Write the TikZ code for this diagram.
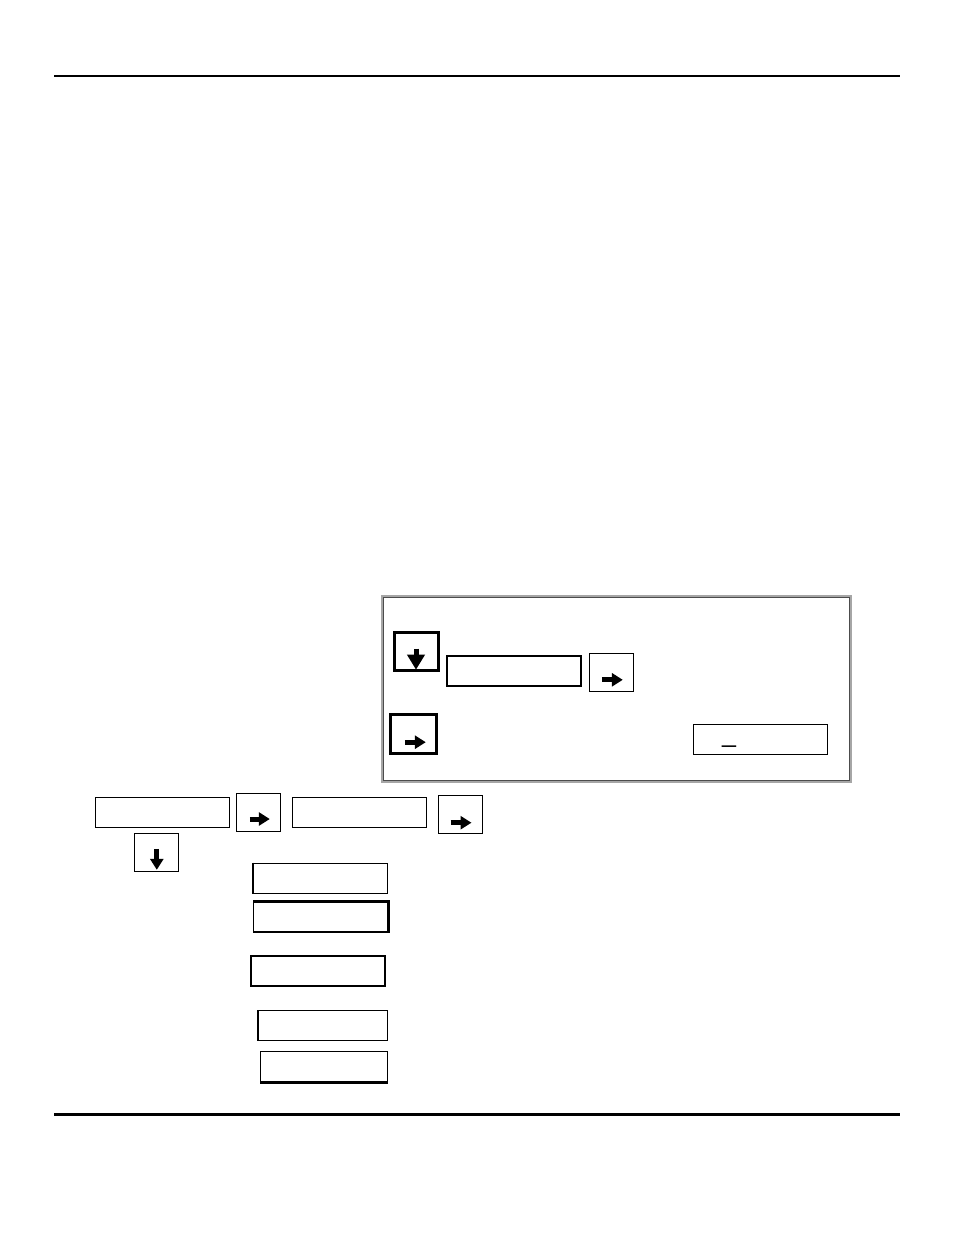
\documentclass[tikz,border=0pt]{standalone}
\usepackage{fontspec}
\usetikzlibrary{arrows.meta}
\newfontfamily\arialfont{Liberation Sans}

\begin{document}
\begin{tikzpicture}[x=1pt,y=-1pt]
	\useasboundingbox (0,0) rectangle (954,1235);
	% page rules
	\draw[line width=1.5pt] (54,76) -- (900,76);
	\draw[line width=3pt] (54,1114) -- (900,1114);
	% framed panel
	\draw[gray!70, line width=2.5pt] (382,596) rectangle (851,782);
	\draw[black!70, line width=0.7pt] (383.6,597.6) rectangle (849.4,780.4);
	\begin{scope}
		[
			styleKey/.style={draw, line width=1pt, inner sep=0pt,
				minimum width=44pt, minimum height=38pt},
			styleKeyBold/.style={styleKey, line width=3pt},
			styleField/.style={draw, line width=1.2pt, inner sep=0pt,
				minimum width=134pt, minimum height=30pt},
		]
		\node(kDown)[styleKeyBold] at (416,651.7) {};
		\node(fName)[styleField, line width=1.6pt] at (514.2,670.8) {};
		\node(kRight)[styleKey] at (611.8,672.8) {};
		\node(kRightB)[styleKeyBold, minimum width=46pt, minimum height=39pt] at (413.8,734.2) {};
		\node(fCursor)[styleField] at (760.3,739.7) {};
		\node(cursor)[font=\arialfont\fontsize{25}{25}\selectfont, inner sep=0pt] at (729,745) {\_};

		\node(f1)[styleField] at (162.5,812.3) {};
		\node(k1)[styleKey] at (258.8,812) {};
		\node(f2)[styleField] at (359.5,812.3) {};
		\node(k2)[styleKey] at (460.5,814.7) {};
		\node(k3)[styleKey] at (156.8,852.8) {};

		\node(b1)[styleField] at (320.8,878.3) {};
		\node(b2)[styleField] at (320.8,917) {};
		\node(b3)[styleField] at (318,971) {};
		\node(b4)[styleField, minimum width=129pt] at (323.3,1025.8) {};
		\node(b5)[styleField, minimum width=127pt] at (324.2,1066.7) {};
	\end{scope}

	\begin{scope}
		[ keyArrow/.style = {line width=5pt, -{Triangle[length=11pt,width=13pt]}},
			bigArrow/.style = {line width=5pt, -{Triangle[length=15pt,width=17pt]}},
			heavy/.style = {line width=2.5pt}]
		\draw[bigArrow] ([shift={(0,-3)}]kDown.center) -- ([shift={(0,18)}]kDown.center);
		\draw[keyArrow] ([shift={(-10,7)}]kRight.center) -- ([shift={(11,7)}]kRight.center);
		\draw[keyArrow] ([shift={(-9,8)}]kRightB.center) -- ([shift={(12,8)}]kRightB.center);
		\draw[keyArrow] ([shift={(-9,7)}]k1.center) -- ([shift={(11,7)}]k1.center);
		\draw[keyArrow] ([shift={(-10,8)}]k2.center) -- ([shift={(11,8)}]k2.center);
		\draw[keyArrow] ([shift={(0,-4)}]k3.center) -- ([shift={(0,17)}]k3.center);
		% heavier box edges
		\draw[heavy] (b1.north west) -- (b1.south west);
		\draw[heavy] (b2.north west) -- (b2.north east) -- (b2.south east);
		\draw[heavy] (b4.north west) -- (b4.south west);
		\draw[heavy] (b5.south west) -- (b5.south east);
	\end{scope}
\end{tikzpicture}
\end{document}
